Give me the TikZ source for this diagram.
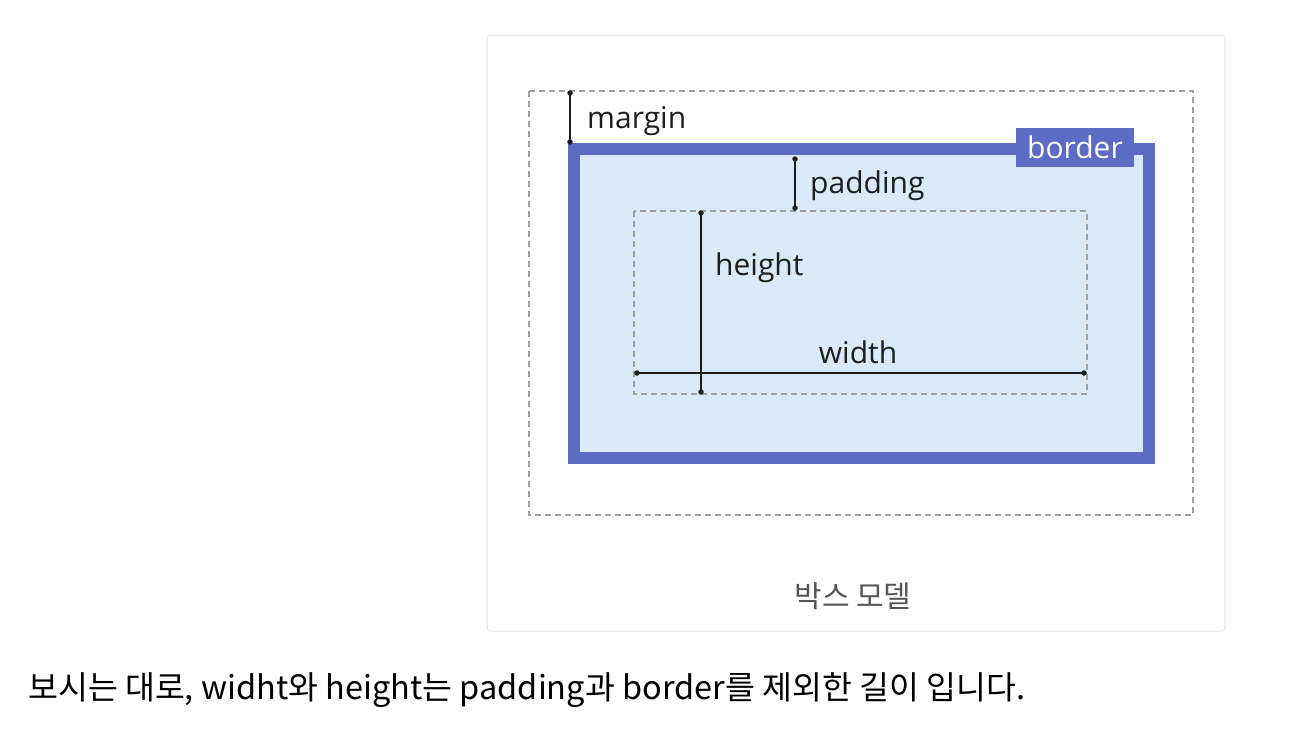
\documentclass[tikz,border=0pt]{standalone}
\usepackage{fontspec}
\setmainfont{Open Sans}
\newfontfamily\kr{Noto Sans CJK KR}
\definecolor{bordblue}{RGB}{92,107,196}
\definecolor{padfill}{RGB}{219,234,250}
\definecolor{dashgray}{RGB}{160,160,160}
\definecolor{framegray}{RGB}{228,228,228}
\definecolor{capgray}{RGB}{85,85,85}
\definecolor{ink}{RGB}{30,30,30}
\tikzset{
  dashbox/.style={draw=dashgray, line width=1.3pt, dash pattern=on 6pt off 4pt},
  measure/.style={draw=ink, line width=1.8pt},
  enddot/.style={fill=ink, draw=none, minimum size=5.5pt, inner sep=0pt, circle},
  lbl/.style={font=\fontsize{30}{34}\selectfont, text=ink, inner sep=0pt},
}
\begin{document}
\begin{tikzpicture}[x=1pt,y=-1pt]
\useasboundingbox (0,0) rectangle (1302,732);
\fill[white] (0,0) rectangle (1302,732);
% figure frame
\draw[framegray, line width=1pt, rounded corners=3pt] (487,35) rectangle (1225,631);
% margin box
\draw[dashbox] (529,91) rectangle (1193,515);
% border box
\draw[draw=bordblue, fill=padfill, line width=12pt] (574,149) rectangle (1149,458);
% border label
\node[fill=bordblue, text=white, minimum width=118pt, minimum height=39pt, inner sep=0pt, font=\fontsize{30}{34}\selectfont] (bl) at (1075,147.5) {border};
% padding (content) box
\draw[dashbox] (634,211) rectangle (1087,394);
% margin marker
\coordinate (m1) at (570,93);
\coordinate (m2) at (570,142);
\draw[measure] (m1) -- (m2);
\node[enddot] at (m1) {}; \node[enddot] at (m2) {};
\node[lbl, anchor=west] (ml) at (587,121) {margin};
% padding marker
\coordinate (p1) at (795,159);
\coordinate (p2) at (795,208);
\draw[measure] (p1) -- (p2);
\node[enddot] at (p1) {}; \node[enddot] at (p2) {};
\node[lbl, anchor=west] (pl) at (810,186) {padding};
% height marker
\coordinate (h1) at (701,213);
\coordinate (h2) at (701,392);
\draw[measure] (h1) -- (h2);
\node[enddot] at (h1) {}; \node[enddot] at (h2) {};
\node[lbl, anchor=west] (hl) at (715,268) {height};
% width marker
\coordinate (w1) at (637,373);
\coordinate (w2) at (1084,373);
\draw[measure] (w1) -- (w2);
\node[enddot] at (w1) {}; \node[enddot] at (w2) {};
\node[lbl] (wl) at (858,352) {width};
% caption
\node[font=\kr\fontsize{30}{34}\selectfont, text=capgray, inner sep=0pt] (cap) at (853,596) {박스 모델};
% body text
\node[font=\kr\fontsize{32.5}{36}\selectfont, text=black, inner sep=0pt, anchor=west] (body) at (28,690) {보시는 대로, widht와 height는 padding과 border를 제외한 길이 입니다.};
\end{tikzpicture}
\end{document}
